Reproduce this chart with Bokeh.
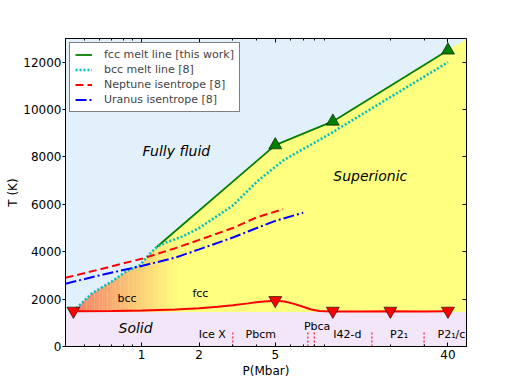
import numpy as np
from bokeh.plotting import figure
from bokeh.models import FixedTicker, LogAxis, LinearAxis, PrintfTickFormatter, BasicTickFormatter, CustomJSTickFormatter
from bokeh.core.properties import value
from bokeh.embed import file_html
from bokeh.resources import INLINE

# ---------------- data ----------------
fcc_P = [1.2, 5.0, 10.0, 40.0]
fcc_T = [4200, 8500, 9500, 12500]
fcc_ext_P = [50.0, 60.0]          # extension of the melt line to the frame corner
fcc_ext_T = [12980, 13380]

fcc_mark_P = [5.0, 10.0, 40.0]
fcc_mark_T = [8500, 9500, 12500]

bcc_P = [0.44, 0.55, 0.7, 0.83, 0.98, 1.1, 1.2, 1.35, 1.64, 2.0, 3.0, 4.0, 5.5, 10.0, 40.0]
bcc_T = [1500, 2240, 2750, 3170, 3430, 3900, 4200, 4400, 4650, 5000, 5950, 6950, 7850, 9050, 12000]

nep_P = [0.4, 0.6, 1.0, 1.5, 2.0, 3.0, 4.0, 5.5]
nep_T = [2900, 3250, 3700, 4150, 4500, 5000, 5450, 5800]

ura_P = [0.4, 0.6, 1.0, 1.5, 2.0, 3.0, 4.0, 5.0, 7.0]
ura_T = [2650, 3000, 3400, 3750, 4100, 4600, 5000, 5300, 5650]

solid_P = [0.44, 0.7, 1.0, 1.5, 2.0, 2.5, 3.0, 3.6, 4.2, 5.0, 5.6, 6.2, 7.0, 7.7, 8.5, 10, 14, 20, 30, 40]
solid_T = [1490, 1500, 1520, 1560, 1610, 1680, 1740, 1820, 1890, 1930, 1900, 1810, 1680, 1560, 1500, 1480, 1480, 1490, 1480, 1490]

solid_mark_P = [0.44, 5.0, 10.0, 20.0, 40.0]
solid_mark_T = [1500, 1950, 1500, 1500, 1500]

solid_top_T = 1450
phase_bounds_P = [3.0, 7.4, 8.0, 16.0, 30.0]
phase_bounds_T = 650

phase_names = ["Ice X", "Pbcm", "Pbca", "I42-d", "P2\u2081", "P2\u2081/c"]
x_ticks = [1, 2, 5, 40]
x_minor = [0.4, 0.5, 0.6, 0.7, 0.8, 0.9, 3, 4, 6, 7, 8, 9, 20, 30]
y_ticks = [0, 2000, 4000, 6000, 8000, 10000, 12000]

# ---------------- colours ----------------
C_FLUID = "#e2f0fc"
C_YELLOW = "#ffff80"
C_SOLID = "#f3e6f9"
FONT = "DejaVu Sans"

p = figure(width=502, height=380, x_axis_type="log", x_range=(0.4, 50), y_range=(0, 13000),
           output_backend="svg", toolbar_location=None,
           min_border_left=65, min_border_right=36, min_border_top=38, min_border_bottom=32)
p.background_fill_color = C_FLUID
p.border_fill_color = "white"
p.outline_line_color = "black"
p.outline_line_width = 1
p.xgrid.visible = False
p.ygrid.visible = False

XL, XR, YT = 0.3, 70, 14000

# superionic (yellow) base
p.quad(left=[XL], right=[XR], bottom=[solid_top_T], top=[YT], fill_color=C_YELLOW, line_color=None)

# bcc gradient strips
edges = np.geomspace(bcc_P[0], 1.55, 41)
c0 = np.array([246, 124, 108]); c1 = np.array([255, 255, 128])
cols = []
for i in range(40):
    t = (i + 0.5) / 40
    c = (c0 * (1 - t) + c1 * t).astype(int)
    cols.append("#%02x%02x%02x" % tuple(c))
p.quad(left=edges[:-1], right=edges[1:] * 1.002, bottom=solid_top_T, top=4600, fill_color=cols, line_color=None)

# fully fluid region on top
k = bcc_P.index(fcc_P[0])
fx = [XL, bcc_P[0]] + bcc_P[:k] + fcc_P + fcc_ext_P + [XR, XL]
fy = [solid_top_T, solid_top_T] + bcc_T[:k] + fcc_T + fcc_ext_T + [YT, YT]
p.patch(fx, fy, fill_color=C_FLUID, line_color=None)

# solid region
p.quad(left=[XL], right=[XR], bottom=[0], top=[solid_top_T], fill_color=C_SOLID, line_color=None)

# phase boundaries in the solid
p.segment(x0=phase_bounds_P, y0=0, x1=phase_bounds_P, y1=phase_bounds_T,
          line_color="#ff2040", line_width=1.3, line_dash="2 2")

# lines
p.line(fcc_P, fcc_T, line_color="#008000", line_width=1.8, legend_label="fcc melt line [this work]")
p.line(bcc_P, bcc_T, line_color="#00bfbf", line_width=2.6, line_dash="2 2", legend_label="bcc melt line [8]")
p.line(nep_P, nep_T, line_color="#ff0000", line_width=2, line_dash="8 4", legend_label="Neptune isentrope [8]")
p.line(ura_P, ura_T, line_color="#0000ff", line_width=2, line_dash="11 3 2 3", legend_label="Uranus isentrope [8]")
p.line(solid_P, solid_T, line_color="#ff0000", line_width=2)

p.scatter(fcc_mark_P, fcc_mark_T, marker="triangle", size=13, fill_color="#008000", line_color="black", line_width=0.6)
p.scatter(solid_mark_P, solid_mark_T, marker="inverted_triangle", size=13, fill_color="#ff0000", line_color="black", line_width=0.6)

# region labels
p.text(x=[1.52, 15.7, 0.93], y=[8240, 7190, 780], text=["Fully fluid", "Superionic", "Solid"],
       text_font=value(FONT), text_font_style="italic", text_font_size="14px",
       text_align="center", text_baseline="middle", text_color="black")
p.text(x=[0.84, 2.03], y=[2030, 2240], text=["bcc", "fcc"],
       text_font=value(FONT), text_font_size="11px", text_align="center", text_baseline="middle")
p.text(x=[2.34, 4.2, 8.28, 11.9, 22.2, 41.7], y=[520, 520, 860, 520, 520, 520], text=phase_names,
       text_font=value(FONT), text_font_size="11px", text_align="center", text_baseline="middle")

# axes
ticker = FixedTicker(ticks=x_ticks, minor_ticks=x_minor)
xa = p.xaxis[0]
xa.ticker = ticker
xa.formatter = PrintfTickFormatter(format="%d")
xa.axis_label = "P(Mbar)"
xa.major_tick_in = 4; xa.major_tick_out = 0
xa.minor_tick_in = 2; xa.minor_tick_out = 0
xa.major_label_standoff = 3
xa.axis_label_standoff = 2

ya = p.yaxis[0]
ya.ticker = FixedTicker(ticks=y_ticks)
ya.formatter = BasicTickFormatter(use_scientific=False)
ya.axis_label = "T (K)"
ya.major_tick_in = 0; ya.major_tick_out = 3
ya.minor_tick_in = 0; ya.minor_tick_out = 0
ya.major_label_standoff = 1
ya.axis_label_standoff = 0

for ax in (xa, ya):
    ax.axis_line_color = "black"
    ax.major_tick_line_color = "black"
    ax.minor_tick_line_color = "black"
    ax.major_label_text_font = FONT
    ax.major_label_text_font_size = "12px"
    ax.major_label_text_color = "black"
    ax.axis_label_text_font = FONT
    ax.axis_label_text_font_size = "12px"
    ax.axis_label_text_font_style = "normal"
    ax.axis_label_text_color = "black"

blank = CustomJSTickFormatter(code="return ''")
top = LogAxis(ticker=FixedTicker(ticks=x_ticks, minor_ticks=x_minor), formatter=blank,
              major_tick_in=4, major_tick_out=0, minor_tick_in=2, minor_tick_out=0, major_label_standoff=0)
p.add_layout(top, "above")
right = LinearAxis(ticker=FixedTicker(ticks=y_ticks), formatter=blank,
                   major_tick_in=4, major_tick_out=0, minor_tick_in=0, minor_tick_out=0, major_label_standoff=0)
p.add_layout(right, "right")

lg = p.legend[0]
lg.location = "top_left"
lg.margin = 4
lg.padding = 5
lg.spacing = 2
lg.glyph_width = 17
lg.glyph_height = 13
lg.label_height = 13
lg.label_standoff = 12
lg.label_text_font = FONT
lg.label_text_font_size = "11px"
lg.border_line_color = "black"
lg.border_line_width = 1
lg.background_fill_color = "white"
lg.background_fill_alpha = 1

open("out.html", "w").write(file_html(p, INLINE))
